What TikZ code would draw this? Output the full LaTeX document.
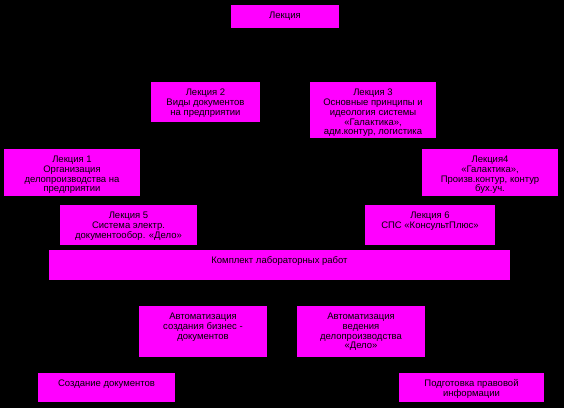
\documentclass[tikz,border=0pt]{standalone}
\usepackage{fontspec}
\setmainfont{Liberation Sans}
\definecolor{boxmag}{RGB}{255,0,255}
\begin{document}
\begin{tikzpicture}[x=1pt,y=-1pt,
  box/.style={fill=boxmag, draw=none, inner sep=0pt, outer sep=0pt, anchor=north west},
  txt/.style={text=black, inner sep=0pt, anchor=north, align=center, font=\fontsize{9.5}{9.9}\selectfont}]
\fill[black] (0,0) rectangle (564,408);
\useasboundingbox (0,0) rectangle (564,408);
% boxes
\node[box, minimum width=108pt, minimum height=23pt] (b1) at (231,5) {};
\node[box, minimum width=109pt, minimum height=40pt] (b2) at (151,82) {};
\node[box, minimum width=126pt, minimum height=56pt] (b3) at (310,82) {};
\node[box, minimum width=136pt, minimum height=47pt] (b4) at (4,149) {};
\node[box, minimum width=136pt, minimum height=47pt] (b5) at (422,149) {};
\node[box, minimum width=137pt, minimum height=40pt] (b6) at (60,205) {};
\node[box, minimum width=130pt, minimum height=40pt] (b7) at (365,205) {};
\node[box, minimum width=461pt, minimum height=30pt] (b8) at (49,250) {};
\node[box, minimum width=128pt, minimum height=51pt] (b9) at (139,306) {};
\node[box, minimum width=128pt, minimum height=51pt] (b10) at (297,306) {};
\node[box, minimum width=137pt, minimum height=29pt] (b11) at (38,373) {};
\node[box, minimum width=145pt, minimum height=29pt] (b12) at (399,373) {};
% texts
\node[txt] (t1) at ([yshift=-6.5pt]b1.north) {Лекция};
\node[txt] (t2) at ([yshift=-6.5pt]b2.north) {Лекция 2\\Виды документов\\на предприятии};
\node[txt] (t3) at ([yshift=-6.5pt]b3.north) {Лекция 3\\Основные принципы и\\идеология системы\\«Галактика»,\\адм.контур, логистика};
\node[txt] (t4) at ([yshift=-6.5pt]b4.north) {Лекция 1\\Организация\\делопроизводства на\\предприятии};
\node[txt] (t5) at ([yshift=-6.5pt]b5.north) {Лекция4\\«Галактика»,\\Произв.контур, контур\\бух.уч.};
\node[txt] (t6) at ([yshift=-6.5pt]b6.north) {Лекция 5\\Система электр.\\документообор. «Дело»};
\node[txt] (t7) at ([yshift=-6.5pt]b7.north) {Лекция 6\\СПС «КонсультПлюс»};
\node[txt] (t8) at ([yshift=-6.5pt]b8.north) {Комплект лабораторных работ};
\node[txt] (t9) at ([yshift=-6.5pt]b9.north) {Автоматизация\\создания бизнес -\\документов};
\node[txt] (t10) at ([yshift=-6.5pt]b10.north) {Автоматизация\\ведения\\делопроизводства\\«Дело»};
\node[txt] (t11) at ([yshift=-6.5pt]b11.north) {Создание документов};
\node[txt] (t12) at ([yshift=-6.5pt]b12.north) {Подготовка правовой\\информации};
\end{tikzpicture}
\end{document}
